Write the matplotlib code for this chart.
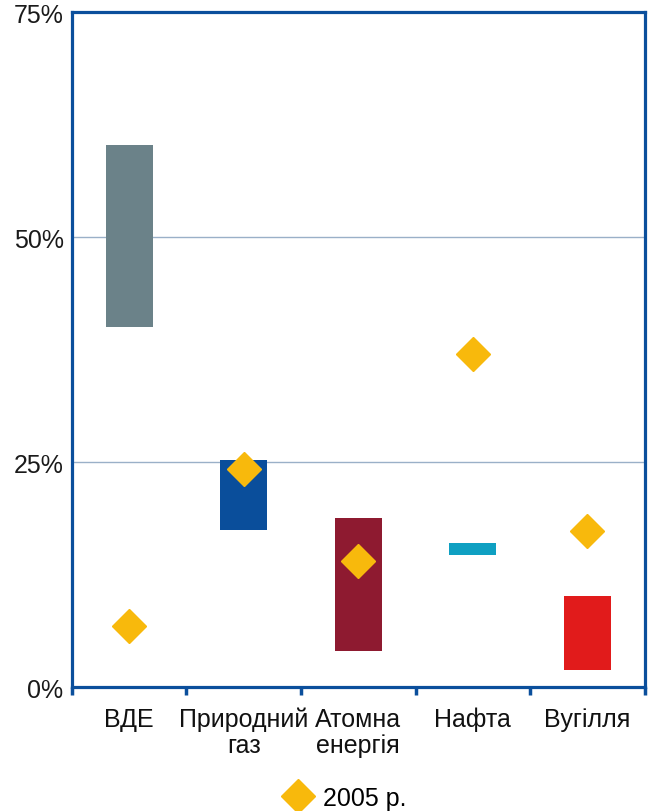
import matplotlib.pyplot as plt
import numpy as np

plt.rcParams['font.family'] = ['Liberation Sans', 'DejaVu Sans']

# categories and ranges (share of energy mix)
categories = ['ВДЕ', 'Природний\nгаз', 'Атомна\nенергія', 'Нафта', 'Вугілля']
range_low = [0.40, 0.175, 0.04, 0.147, 0.019]
range_high = [0.603, 0.253, 0.188, 0.16, 0.101]
share_2005 = [0.068, 0.243, 0.140, 0.370, 0.174]
bar_colors = ['#6b8289', '#0a4e9b', '#8e1a30', '#0fa0c2', '#e11b1b']
y_ticks = [0, 0.25, 0.50, 0.75]
y_labels = ['0%', '25%', '50%', '75%']

spine_col = '#0b4f9c'

fig = plt.figure(figsize=(6.48, 8.12), dpi=100)
ax = fig.add_axes([0.111, 0.1525, 0.884, 0.831])

x = np.arange(len(categories))
heights = np.array(range_high) - np.array(range_low)
ax.bar(x, heights, bottom=range_low, width=0.41, color=bar_colors, zorder=2)
ax.plot(x, share_2005, linestyle='none', marker='D', ms=17, color='#f8b90c',
        markeredgecolor='#f8b90c', zorder=3, label='2005 р.')

ax.set_xlim(-0.5, len(categories) - 0.5)
ax.set_ylim(0, 0.75)
ax.set_yticks(y_ticks)
ax.set_yticklabels(y_labels)
ax.tick_params(axis='y', length=0, pad=6, labelsize=18, labelcolor='#1a1a1a')

ax.set_xticks(x)
ax.set_xticklabels(categories)
ax.tick_params(axis='x', which='major', length=0, pad=14, labelsize=18, labelcolor='#111111')
ax.set_xticks(np.arange(-0.5, len(categories)), minor=True)
ax.tick_params(axis='x', which='minor', length=6, width=2.5, color=spine_col, direction='out')
for lbl in ax.get_xticklabels():
    lbl.set_verticalalignment('top')
    lbl.set_linespacing(1.1)

ax.yaxis.grid(True, color='#9ab0c8', linewidth=1, zorder=0)
ax.set_axisbelow(True)
for s in ax.spines.values():
    s.set_color(spine_col)
    s.set_linewidth(2.3)

fig.legend(loc='center', bbox_to_anchor=(0.525, 0.016), frameon=False, fontsize=18,
           handletextpad=0.0, numpoints=1, markerscale=1.0)

fig.savefig('out.png', dpi=100)
